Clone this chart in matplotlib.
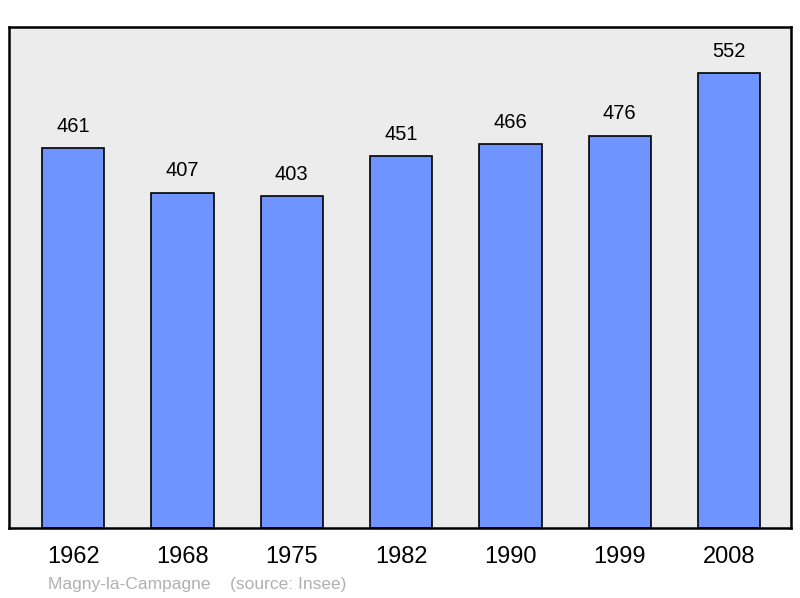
import matplotlib
matplotlib.use('Agg')
import matplotlib.pyplot as plt

plt.rcParams['font.family'] = ['Liberation Sans', 'DejaVu Sans']

years = ['1962', '1968', '1975', '1982', '1990', '1999', '2008']
population = [461, 407, 403, 451, 466, 476, 552]

fig = plt.figure(figsize=(8, 5.98), dpi=100)
ax = fig.add_axes([9 / 800, 70 / 598, 782 / 800, 501 / 598])
ax.set_facecolor('#ececec')

x = range(len(years))
ax.bar(x, population, width=0.57, color='#7094ff', edgecolor='black', linewidth=1.2, zorder=2)

# value labels above the bars
for i, v in enumerate(population):
    ax.text(i, v + 15, str(v), ha='center', va='bottom', fontsize=14.5)

ax.set_xlim(-0.586, 6.567)
ax.set_ylim(0, 608)
ax.set_yticks([])
ax.set_xticks(list(x))
ax.set_xticklabels(years, fontsize=17)
ax.tick_params(axis='x', length=0, pad=13)
for s in ax.spines.values():
    s.set_linewidth(1.8)

fig.text(48 / 800, 1 - 584 / 598, 'Magny-la-Campagne    (source: Insee)',
         color='#b0b0b0', fontsize=12.5, va='center')

plt.savefig('out.png')
